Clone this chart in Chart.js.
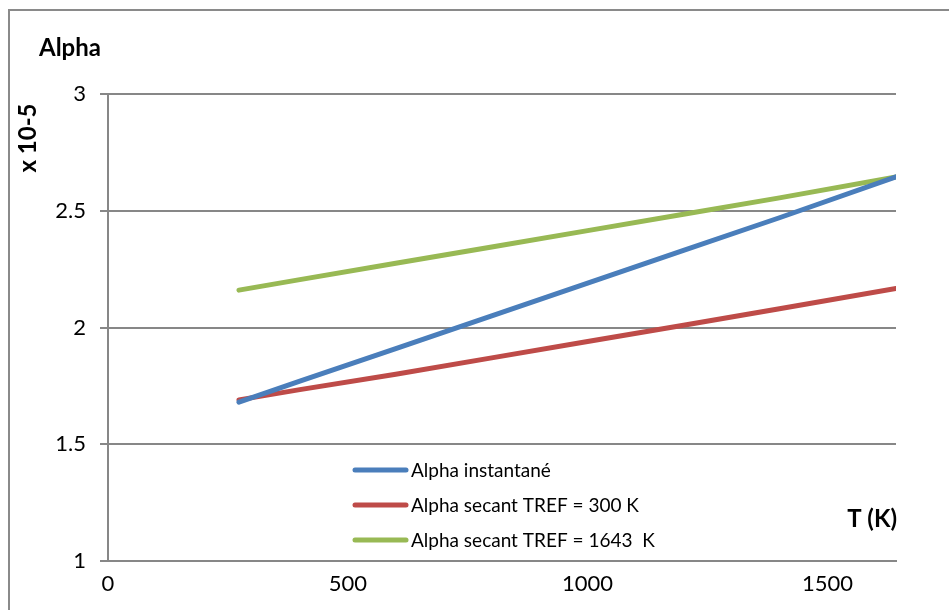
<!DOCTYPE html>
<html>
<head>
<meta charset="utf-8">
<script src="https://cdn.jsdelivr.net/npm/chart.js@4"></script>
<style>
  html, body { margin: 0; padding: 0; background: #fff; }
  #wrap { width: 949px; height: 610px; position: relative; }
</style>
</head>
<body>
<div id="wrap"><canvas id="chart" width="949" height="610"></canvas></div>
<script>
const FONT = "Lato, 'Open Sans', sans-serif";
const BLUE = "#4a7ebb";
const RED = "#be4b48";
const GREEN = "#98b954";
const GRID = "#878787";

// temperatures (K)
const temps = [273, 400, 600, 800, 1000, 1200, 1400, 1643];
// alpha values, x 10-5
const alphaInstant = [1.68, 1.77, 1.91, 2.05, 2.19, 2.33, 2.47, 2.645];
const alphaSecant300 = [1.69, 1.734, 1.80, 1.87, 1.94, 2.01, 2.08, 2.167];
const alphaSecant1643 = [2.16, 2.205, 2.275, 2.345, 2.415, 2.485, 2.555, 2.645];
const seriesNames = ["Alpha instantané", "Alpha secant TREF = 300 K", "Alpha secant TREF = 1643  K"];
const xTicks = [0, 500, 1000, 1500];

const toPoints = (vals) => vals.map((v, i) => ({ x: temps[i], y: v }));

// frame, axis titles and in-plot legend
const decorations = {
  id: "decorations",
  beforeDraw(chart) {
    const ctx = chart.ctx;
    ctx.save();
    ctx.strokeStyle = "#8a8a8a";
    ctx.lineWidth = 2;
    ctx.beginPath();
    ctx.moveTo(9, 620);
    ctx.lineTo(9, 10);
    ctx.lineTo(960, 10);
    ctx.stroke();
    ctx.restore();
  },
  afterDraw(chart) {
    const ctx = chart.ctx;
    ctx.save();
    ctx.fillStyle = "#000";
    ctx.font = "bold 24px " + FONT;
    ctx.textBaseline = "middle";
    ctx.textAlign = "left";
    ctx.fillText("Alpha", 39, 48);
    ctx.textAlign = "right";
    ctx.fillText("T (K)", 897, 519);
    ctx.save();
    ctx.translate(28, 138);
    ctx.rotate(-Math.PI / 2);
    ctx.textAlign = "center";
    ctx.fillText("x 10-5", 0, 0);
    ctx.restore();

    ctx.textAlign = "left";
    ctx.font = "19px " + FONT;
    chart.data.datasets.forEach((ds, i) => {
      const y = 470 + i * 35;
      ctx.strokeStyle = ds.borderColor;
      ctx.lineWidth = 5;
      ctx.lineCap = "round";
      ctx.beginPath();
      ctx.moveTo(355, y);
      ctx.lineTo(406, y);
      ctx.stroke();
      ctx.fillStyle = "#000";
      ctx.fillText(ds.label, 411, y + 1);
    });
    ctx.restore();
  }
};

const colors = [BLUE, RED, GREEN];
const series = [alphaInstant, alphaSecant300, alphaSecant1643];

new Chart(document.getElementById("chart"), {
  type: "line",
  data: {
    datasets: series.map((vals, i) => ({
      label: seriesNames[i],
      data: toPoints(vals),
      borderColor: colors[i],
      backgroundColor: colors[i],
      borderWidth: 5,
      pointRadius: 0,
      tension: 0,
      borderCapStyle: "round",
    })),
  },
  options: {
    responsive: false,
    animation: false,
    layout: { padding: { top: 94, right: 53, left: 0, bottom: 0 } },
    plugins: { legend: { display: false }, tooltip: { enabled: false } },
    scales: {
      x: {
        type: "linear",
        min: 0,
        max: 1643,
        afterBuildTicks(scale) {
          scale.ticks = xTicks.map((v) => ({ value: v }));
        },
        afterFit(scale) { scale.height = 49; },
        grid: { display: false, drawOnChartArea: false, drawTicks: true, tickLength: 7, tickColor: GRID, tickWidth: 2 },
        border: { display: true, color: GRID, width: 2 },
        ticks: { color: "#000", font: { family: FONT, size: 22 }, padding: 3, maxRotation: 0, callback: (v) => String(v) },
      },
      y: {
        min: 1,
        max: 3,
        ticks: { stepSize: 0.5, color: "#000", font: { family: FONT, size: 22 }, padding: 14, callback: (v) => String(v) },
        afterFit(scale) { scale.width = 108; },
        grid: { color: GRID, lineWidth: 2, drawTicks: true, tickLength: 8, tickColor: GRID },
        border: { display: true, color: GRID, width: 2 },
      },
    },
  },
  plugins: [decorations],
});
</script>
</body>
</html>
